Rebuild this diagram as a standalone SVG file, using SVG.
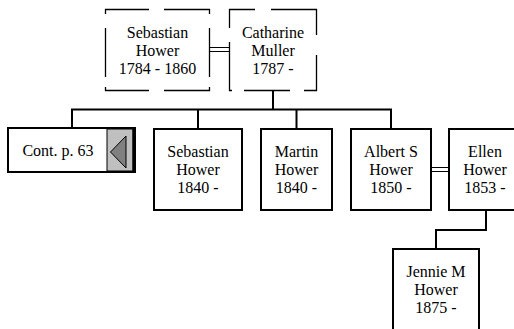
<svg xmlns="http://www.w3.org/2000/svg" width="514" height="329" viewBox="0 0 514 329">
<style>
  .box { fill: #ffffff; stroke: #000000; stroke-width: 2; }
  .dash { fill: none; stroke: #000000; stroke-width: 1.3; }
  .wire { fill: none; stroke: #000000; stroke-width: 2; }
  .dbl { fill: none; stroke: #000000; stroke-width: 1; }
  .t { font-family: "Liberation Serif", "Times New Roman", serif; font-size: 16px; fill: #000000; text-anchor: middle; }
</style>
<rect width="514" height="329" fill="#ffffff"/>
<g id="connectors">
  <path class="dbl" d="M210,47.5 H229 M210,51.5 H229"/>
  <path class="wire" d="M273,91 V109.5 M72,128 V109.5 H391 V129 M198,109.5 V129 M296.5,109.5 V129"/>
  <path class="dbl" d="M431,167.5 H449 M431,171.5 H449"/>
  <path class="wire" d="M486,210 V230 H436 V249"/>
</g>
<g id="sebastian-1784">
  <rect x="105" y="9" width="105" height="81" fill="#ffffff"/>
  <path class="dash" d="M105,9.5 H149 M164,9.5 H210 M105,90.5 H149 M164,90.5 H210 M105.5,9 V14 M105.5,28 V77 M105.5,87 V91 M209.5,9 V14 M209.5,28 V77 M209.5,87 V91"/>
  <text class="t" x="157.5" y="37.5">Sebastian</text>
  <text class="t" x="157.5" y="55.5">Hower</text>
  <text class="t" x="157.5" y="73.5">1784 - 1860</text>
</g>
<g id="catharine-muller">
  <rect x="229" y="9" width="88" height="82" fill="#ffffff"/>
  <path class="dash" d="M229,9.5 H255 M271,9.5 H317 M229.5,9 V28 M229.5,42 V91 M316.5,9 V35 M316.5,55 V91 M229,90.5 H232 M244,90.5 H290 M304,90.5 H317"/>
  <text class="t" x="273" y="37.5">Catharine</text>
  <text class="t" x="273" y="55.5">Muller</text>
  <text class="t" x="273" y="73.5">1787 -</text>
</g>
<g id="cont-p63">
  <rect class="box" x="8" y="128" width="127" height="44"/>
  <rect x="107" y="129" width="26" height="42" fill="#c0c0c0" stroke="#000000" stroke-width="1"/>
  <line x1="134" y1="127" x2="134" y2="173" stroke="#000000" stroke-width="3"/>
  <polygon points="110.5,152 126,136 126,168" fill="#808080" stroke="#000000" stroke-width="1"/>
  <text class="t" x="58" y="156">Cont. p. 63</text>
</g>
<g id="sebastian-1840">
  <rect class="box" x="154" y="129" width="88" height="81"/>
  <text class="t" x="198" y="157">Sebastian</text>
  <text class="t" x="198" y="175">Hower</text>
  <text class="t" x="198" y="193">1840 -</text>
</g>
<g id="martin">
  <rect class="box" x="261" y="129" width="71" height="81"/>
  <text class="t" x="296.5" y="157">Martin</text>
  <text class="t" x="296.5" y="175">Hower</text>
  <text class="t" x="296.5" y="193">1840 -</text>
</g>
<g id="albert">
  <rect class="box" x="351" y="129" width="80" height="81"/>
  <text class="t" x="391" y="157">Albert S</text>
  <text class="t" x="391" y="175">Hower</text>
  <text class="t" x="391" y="193">1850 -</text>
</g>
<g id="ellen">
  <rect class="box" x="449" y="129" width="72" height="81"/>
  <text class="t" x="485" y="157">Ellen</text>
  <text class="t" x="485" y="175">Hower</text>
  <text class="t" x="485" y="193">1853 -</text>
</g>
<g id="jennie">
  <rect class="box" x="393" y="249" width="86" height="81"/>
  <text class="t" x="436" y="277">Jennie M</text>
  <text class="t" x="436" y="295">Hower</text>
  <text class="t" x="436" y="313">1875 -</text>
</g>
</svg>
